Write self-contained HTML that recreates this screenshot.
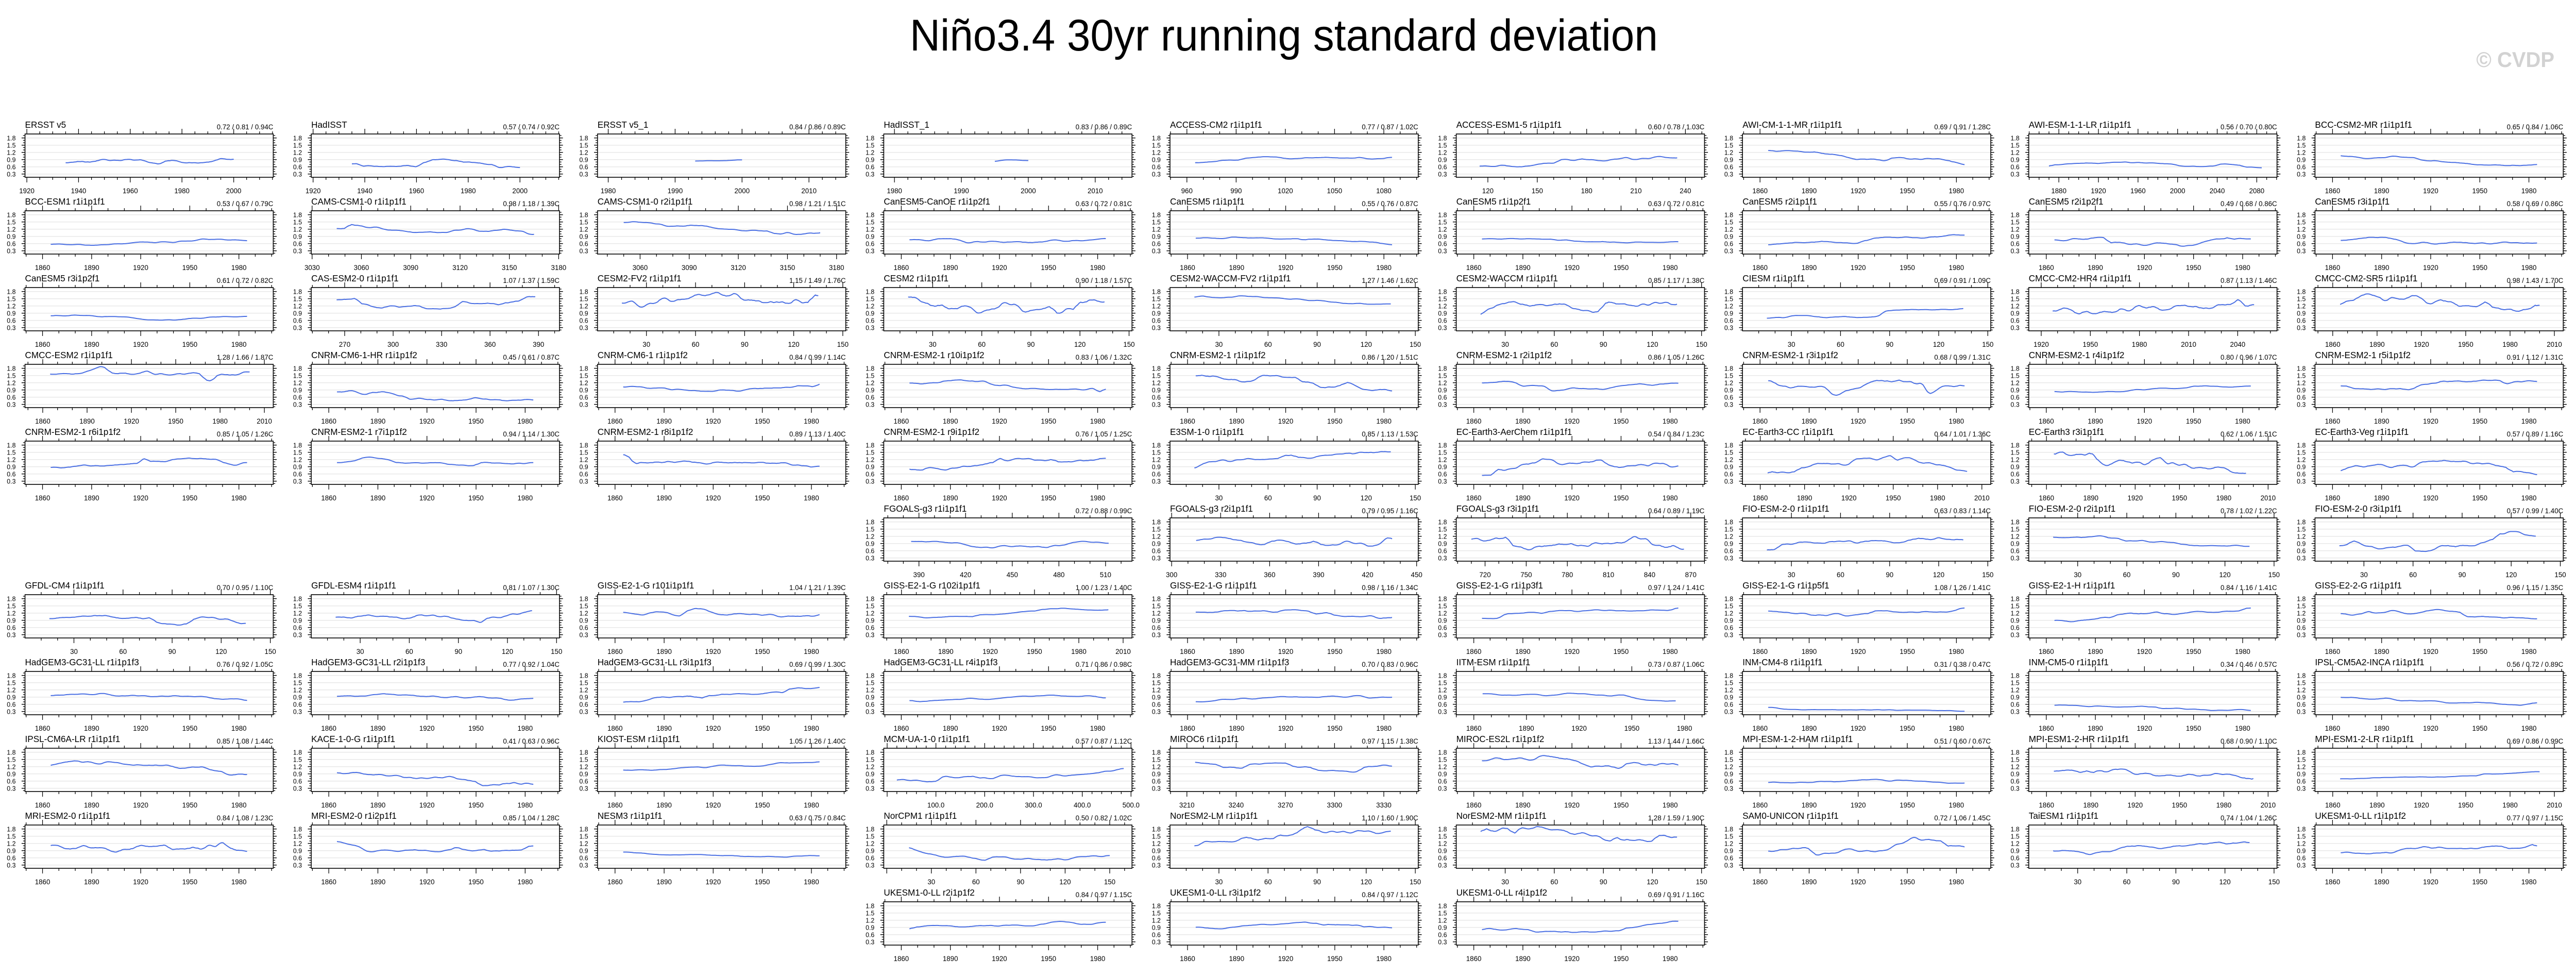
<!DOCTYPE html>
<html><head><meta charset="utf-8">
<style>
html,body{margin:0;padding:0;background:#fff;width:100%;height:100%;overflow:hidden;}
svg{display:block;width:100vw;height:100vh;}
text{font-family:"Liberation Sans",Arial,sans-serif;}
</style></head>
<body>
<svg id="s" xmlns="http://www.w3.org/2000/svg" viewBox="0 0 5251 1894" preserveAspectRatio="none">
<rect width="5251" height="1894" fill="#fff"/>
<text x="2617" y="98" font-size="86" text-anchor="middle" fill="#000">Niño3.4 30yr running standard deviation</text>
<text x="5207" y="130" font-size="42" font-weight="bold" text-anchor="end" fill="#d2d2d2">© CVDP</text>
</svg>
<script>
var AX={
Y:[1849.3,2001,1860,1980,30,10],
Y2:[1848,2016,1860,2010,30,10],
Y3:[1850,1991.4,1860,1980,30,10],
ER:[1919.3,2015.3,1920,2000,20,5],
ER1:[1978.4,2015.5,1980,2010,10,2],
M150:[0.1,151.8,30,150,30,10],
CAMS1:[3029.5,3180.5,3030,3180,30,10],
CAMS2:[3034,3185.6,3060,3180,30,10],
CAS:[249.3,403,270,390,30,10],
ACM2:[949.7,1101,960,1080,30,10],
AESM:[100.8,251.6,120,240,30,10],
AWIL:[1849.6,2100.4,1880,2080,40,10],
HR4:[1912.4,2064,1920,2040,30,10],
FG1:[367.4,527,390,510,30,10],
FG2:[299,451,300,450,30,10],
FG3:[699,880,720,870,30,10],
MIR6:[3199.7,3351,3210,3330,30,10],
MCM:[-6.9,502,100,500,100,20,1],
NCPM:[-2,165,30,150,30,10]
};
var P=[
[1,1,"ERSST v5","0.72 / 0.81 / 0.94C","ER",1935,2000],
[1,2,"BCC-ESM1 r1i1p1f1","0.53 / 0.67 / 0.79C","Y"],
[1,3,"CanESM5 r3i1p2f1","0.61 / 0.72 / 0.82C","Y"],
[1,4,"CMCC-ESM2 r1i1p1f1","1.28 / 1.66 / 1.87C","Y2",1865,2000],
[1,5,"CNRM-ESM2-1 r6i1p1f2","0.85 / 1.05 / 1.26C","Y"],
[1,7,"GFDL-CM4 r1i1p1f1","0.70 / 0.95 / 1.10C","M150",15,135],
[1,8,"HadGEM3-GC31-LL r1i1p1f3","0.76 / 0.92 / 1.05C","Y"],
[1,9,"IPSL-CM6A-LR r1i1p1f1","0.85 / 1.08 / 1.44C","Y"],
[1,10,"MRI-ESM2-0 r1i1p1f1","0.84 / 1.08 / 1.23C","Y"],
[2,1,"HadISST","0.57 / 0.74 / 0.92C","ER",1935,2000],
[2,2,"CAMS-CSM1-0 r1i1p1f1","0.98 / 1.18 / 1.39C","CAMS1",3045,3165],
[2,3,"CAS-ESM2-0 r1i1p1f1","1.07 / 1.37 / 1.59C","CAS",265,388],
[2,4,"CNRM-CM6-1-HR r1i1p1f2","0.45 / 0.61 / 0.87C","Y"],
[2,5,"CNRM-ESM2-1 r7i1p1f2","0.94 / 1.14 / 1.30C","Y"],
[2,7,"GFDL-ESM4 r1i1p1f1","0.81 / 1.07 / 1.30C","M150",15,135],
[2,8,"HadGEM3-GC31-LL r2i1p1f3","0.77 / 0.92 / 1.04C","Y"],
[2,9,"KACE-1-0-G r1i1p1f1","0.41 / 0.63 / 0.96C","Y"],
[2,10,"MRI-ESM2-0 r1i2p1f1","0.85 / 1.04 / 1.28C","Y"],
[3,1,"ERSST v5_1","0.84 / 0.86 / 0.89C","ER1",1993,2000],
[3,2,"CAMS-CSM1-0 r2i1p1f1","0.98 / 1.21 / 1.51C","CAMS2",3050,3170],
[3,3,"CESM2-FV2 r1i1p1f1","1.15 / 1.49 / 1.76C","M150",15,135],
[3,4,"CNRM-CM6-1 r1i1p1f2","0.84 / 0.99 / 1.14C","Y"],
[3,5,"CNRM-ESM2-1 r8i1p1f2","0.89 / 1.13 / 1.40C","Y"],
[3,7,"GISS-E2-1-G r101i1p1f1","1.04 / 1.21 / 1.39C","Y"],
[3,8,"HadGEM3-GC31-LL r3i1p1f3","0.69 / 0.99 / 1.30C","Y"],
[3,9,"KIOST-ESM r1i1p1f1","1.05 / 1.26 / 1.40C","Y"],
[3,10,"NESM3 r1i1p1f1","0.63 / 0.75 / 0.84C","Y"],
[4,1,"HadISST_1","0.83 / 0.86 / 0.89C","ER1",1995,2000],
[4,2,"CanESM5-CanOE r1i1p2f1","0.63 / 0.72 / 0.81C","Y"],
[4,3,"CESM2 r1i1p1f1","0.90 / 1.18 / 1.57C","M150",15,135],
[4,4,"CNRM-ESM2-1 r10i1p1f2","0.83 / 1.06 / 1.32C","Y"],
[4,5,"CNRM-ESM2-1 r9i1p1f2","0.76 / 1.05 / 1.25C","Y"],
[4,6,"FGOALS-g3 r1i1p1f1","0.72 / 0.88 / 0.99C","FG1",385,512],
[4,7,"GISS-E2-1-G r102i1p1f1","1.00 / 1.23 / 1.40C","Y2",1865,2000],
[4,8,"HadGEM3-GC31-LL r4i1p1f3","0.71 / 0.86 / 0.98C","Y"],
[4,9,"MCM-UA-1-0 r1i1p1f1","0.57 / 0.87 / 1.12C","MCM",20,485],
[4,10,"NorCPM1 r1i1p1f1","0.50 / 0.82 / 1.02C","NCPM",15,150],
[4,11,"UKESM1-0-LL r2i1p1f2","0.84 / 0.97 / 1.15C","Y"],
[5,1,"ACCESS-CM2 r1i1p1f1","0.77 / 0.87 / 1.02C","ACM2",965,1085],
[5,2,"CanESM5 r1i1p1f1","0.55 / 0.76 / 0.87C","Y"],
[5,3,"CESM2-WACCM-FV2 r1i1p1f1","1.27 / 1.46 / 1.62C","M150",15,135],
[5,4,"CNRM-ESM2-1 r1i1p1f2","0.86 / 1.20 / 1.51C","Y"],
[5,5,"E3SM-1-0 r1i1p1f1","0.85 / 1.13 / 1.53C","M150",15,135],
[5,6,"FGOALS-g3 r2i1p1f1","0.79 / 0.95 / 1.16C","FG2",315,435],
[5,7,"GISS-E2-1-G r1i1p1f1","0.98 / 1.16 / 1.34C","Y"],
[5,8,"HadGEM3-GC31-MM r1i1p1f3","0.70 / 0.83 / 0.96C","Y"],
[5,9,"MIROC6 r1i1p1f1","0.97 / 1.15 / 1.38C","MIR6",3215,3335],
[5,10,"NorESM2-LM r1i1p1f1","1.10 / 1.60 / 1.90C","M150",15,135],
[5,11,"UKESM1-0-LL r3i1p1f2","0.84 / 0.97 / 1.12C","Y"],
[6,1,"ACCESS-ESM1-5 r1i1p1f1","0.60 / 0.78 / 1.03C","AESM",115,235],
[6,2,"CanESM5 r1i1p2f1","0.63 / 0.72 / 0.81C","Y"],
[6,3,"CESM2-WACCM r1i1p1f1","0.85 / 1.17 / 1.38C","M150",15,135],
[6,4,"CNRM-ESM2-1 r2i1p1f2","0.86 / 1.05 / 1.26C","Y"],
[6,5,"EC-Earth3-AerChem r1i1p1f1","0.54 / 0.84 / 1.23C","Y"],
[6,6,"FGOALS-g3 r3i1p1f1","0.64 / 0.89 / 1.19C","FG3",710,865],
[6,7,"GISS-E2-1-G r1i1p3f1","0.97 / 1.24 / 1.41C","Y"],
[6,8,"IITM-ESM r1i1p1f1","0.73 / 0.87 / 1.06C","Y3",1865,1975],
[6,9,"MIROC-ES2L r1i1p1f2","1.13 / 1.44 / 1.66C","Y"],
[6,10,"NorESM2-MM r1i1p1f1","1.28 / 1.59 / 1.90C","M150",15,135],
[6,11,"UKESM1-0-LL r4i1p1f2","0.69 / 0.91 / 1.16C","Y"],
[7,1,"AWI-CM-1-1-MR r1i1p1f1","0.69 / 0.91 / 1.28C","Y"],
[7,2,"CanESM5 r2i1p1f1","0.55 / 0.76 / 0.97C","Y"],
[7,3,"CIESM r1i1p1f1","0.69 / 0.91 / 1.09C","M150",15,135],
[7,4,"CNRM-ESM2-1 r3i1p1f2","0.68 / 0.99 / 1.31C","Y"],
[7,5,"EC-Earth3-CC r1i1p1f1","0.64 / 1.01 / 1.36C","Y2",1865,2000],
[7,6,"FIO-ESM-2-0 r1i1p1f1","0.63 / 0.83 / 1.14C","M150",15,135],
[7,7,"GISS-E2-1-G r1i1p5f1","1.08 / 1.26 / 1.41C","Y"],
[7,8,"INM-CM4-8 r1i1p1f1","0.31 / 0.38 / 0.47C","Y"],
[7,9,"MPI-ESM-1-2-HAM r1i1p1f1","0.51 / 0.60 / 0.67C","Y"],
[7,10,"SAM0-UNICON r1i1p1f1","0.72 / 1.06 / 1.45C","Y"],
[8,1,"AWI-ESM-1-1-LR r1i1p1f1","0.56 / 0.70 / 0.80C","AWIL",1870,2085],
[8,2,"CanESM5 r2i1p2f1","0.49 / 0.68 / 0.86C","Y"],
[8,3,"CMCC-CM2-HR4 r1i1p1f1","0.87 / 1.13 / 1.46C","HR4",1927,2050],
[8,4,"CNRM-ESM2-1 r4i1p1f2","0.80 / 0.96 / 1.07C","Y"],
[8,5,"EC-Earth3 r3i1p1f1","0.62 / 1.06 / 1.51C","Y2",1865,1995],
[8,6,"FIO-ESM-2-0 r2i1p1f1","0.78 / 1.02 / 1.22C","M150",15,135],
[8,7,"GISS-E2-1-H r1i1p1f1","0.84 / 1.16 / 1.41C","Y"],
[8,8,"INM-CM5-0 r1i1p1f1","0.34 / 0.46 / 0.57C","Y"],
[8,9,"MPI-ESM1-2-HR r1i1p1f1","0.68 / 0.90 / 1.10C","Y2",1865,2000],
[8,10,"TaiESM1 r1i1p1f1","0.74 / 1.04 / 1.26C","M150",15,135],
[9,1,"BCC-CSM2-MR r1i1p1f1","0.65 / 0.84 / 1.06C","Y"],
[9,2,"CanESM5 r3i1p1f1","0.58 / 0.69 / 0.86C","Y"],
[9,3,"CMCC-CM2-SR5 r1i1p1f1","0.98 / 1.43 / 1.70C","Y2",1865,2000],
[9,4,"CNRM-ESM2-1 r5i1p1f2","0.91 / 1.12 / 1.31C","Y"],
[9,5,"EC-Earth3-Veg r1i1p1f1","0.57 / 0.89 / 1.16C","Y"],
[9,6,"FIO-ESM-2-0 r3i1p1f1","0.57 / 0.99 / 1.40C","M150",15,135],
[9,7,"GISS-E2-2-G r1i1p1f1","0.96 / 1.15 / 1.35C","Y"],
[9,8,"IPSL-CM5A2-INCA r1i1p1f1","0.56 / 0.72 / 0.89C","Y"],
[9,9,"MPI-ESM1-2-LR r1i1p1f1","0.69 / 0.86 / 0.99C","Y2",1865,2000],
[9,10,"UKESM1-0-LL r1i1p1f2","0.77 / 0.97 / 1.15C","Y"]
];
var svg=document.getElementById("s");
var out=[];
function esc(s){return s.replace(/&/g,"&amp;").replace(/</g,"&lt;");}
function T(x,y,s,fs,anc){out.push('<text x="'+x.toFixed(1)+'" y="'+y.toFixed(1)+'" font-size="'+fs+'" text-anchor="'+(anc||"start")+'" fill="#000">'+esc(s)+'</text>');}
var W=506,H=84,YMIN=0.165,YMAX=1.965;
P.forEach(function(p,idx){
  var L=51+(p[0]-1)*583.5, Tp=260+(p[1]-1)*149, R=L+W, B=Tp+H;
  var ax=AX[p[4]], lo=ax[0], hi=ax[1];
  function X(v){return L+(v-lo)/(hi-lo)*W;}
  function Yv(v){return Tp+(YMAX-v)/(YMAX-YMIN)*H;}
  var g='';
  for(var v=0.3;v<1.85;v+=0.3){var y=Yv(v);g+='M'+L+' '+y.toFixed(1)+'H'+R;}
  out.push('<path d="'+g+'" stroke="#e8e8e8" stroke-width="1.5" fill="none"/>');
  var tk='';
  for(var i=2;i<=19;i++){var v=i/10;var y=Yv(v).toFixed(1);var maj=(i%3==0);var len=maj?7:4;
    tk+='M'+(L-len)+' '+y+'H'+L+'M'+R+' '+y+'H'+(R+len);}
  var st=ax[5],first=ax[2];
  var s0=first-Math.floor((first-lo)/st)*st;
  for(var v=s0;v<=hi+1e-6;v+=st){var x=X(v).toFixed(1);var q=(v-first)/ax[4];var maj=Math.abs(q-Math.round(q))<1e-6;var len=maj?10:5;
    tk+='M'+x+' '+B+'V'+(B+len)+'M'+x+' '+Tp+'V'+(Tp-len);}
  out.push('<path d="'+tk+'" stroke="#000" stroke-width="1.3" fill="none"/>');
  for(var i=1;i<=6;i++){var v=0.3*i;T(L-19,Yv(v)+4.6,v.toFixed(1),13,"end");}
  for(var v=first;v<=ax[3]+1e-6;v+=ax[4]){T(X(v),B+31,ax[6]?v.toFixed(1):String(Math.round(v)),14,"middle");}
  var stats=p[3].replace("C","").split("/").map(Number);
  var a=p[5]!==undefined?p[5]:1865,b=p[6]!==undefined?p[6]:1985;
  var n=Math.max(8,Math.round((X(b)-X(a))/3));
  var seed=idx*7919+13;function rnd(){seed=(seed*1103515245+12345)%2147483648;return seed/2147483648;}
  var w=[],c=0,tr=(rnd()-0.5)*2;
  for(var i=0;i<n;i++){c+=(rnd()-0.5)*1.0+(rnd()<0.04?(rnd()-0.5)*4:0);w.push(c+tr*i/n*6);}
  var sm=[];for(var i=0;i<n;i++){var s=0,k=0;for(var j=i-2;j<=i+2;j++){if(j>=0&&j<n){s+=w[j];k++;}}sm.push(s/k);}
  var mn=Math.min.apply(null,sm),mx=Math.max.apply(null,sm);if(mx-mn<1e-6)mx=mn+1;
  var d='';
  for(var i=0;i<n;i++){var v=stats[0]+(sm[i]-mn)/(mx-mn)*(stats[2]-stats[0]);
    var x=X(a)+(X(b)-X(a))*i/(n-1);d+=(i?'L':'M')+x.toFixed(1)+' '+Yv(v).toFixed(1);}
  out.push('<path d="'+d+'" stroke="#4a6fe3" stroke-width="2" fill="none" stroke-linejoin="round"/>');
  out.push('<rect x="'+L+'" y="'+Tp+'" width="'+W+'" height="'+H+'" fill="none" stroke="#000" stroke-width="1.6"/>');
  T(L,Tp-12,p[2],18,"start");
  T(R,Tp-9,p[3],14,"end");
});
svg.insertAdjacentHTML("beforeend",out.join(""));
</script>
</body></html>
